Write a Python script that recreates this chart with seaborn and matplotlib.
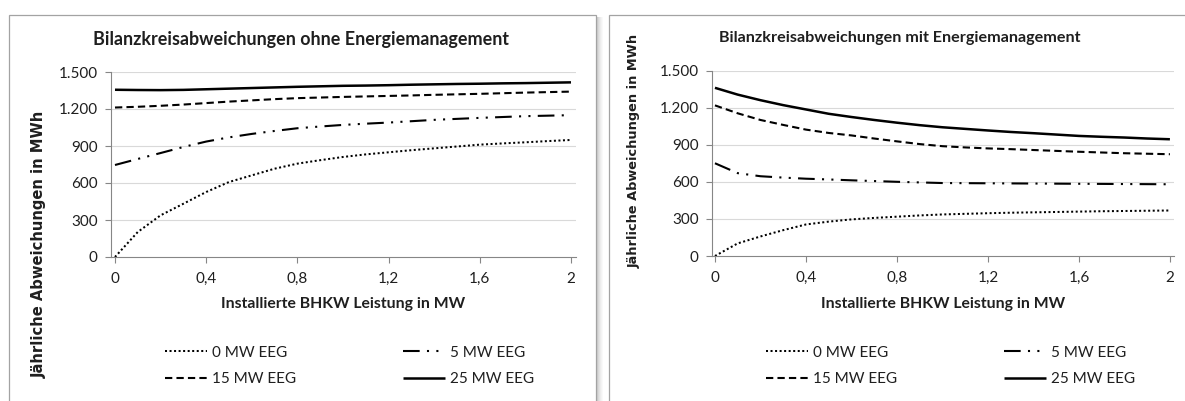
import matplotlib
matplotlib.use("Agg")
import matplotlib.pyplot as plt
from matplotlib.lines import Line2D
from matplotlib.patches import Rectangle
import numpy as np
import pandas as pd
import seaborn as sns

# Installed CHP (BHKW) capacity in MW
bhkw_mw = [0.0, 0.1, 0.2, 0.3, 0.4, 0.5, 0.6, 0.7, 0.8, 0.9, 1.0,
           1.1, 1.2, 1.3, 1.4, 1.5, 1.6, 1.7, 1.8, 1.9, 2.0]
eeg_labels = ["0 MW EEG", "5 MW EEG", "15 MW EEG", "25 MW EEG"]

# Annual balancing-group deviations in MWh, without energy management
ohne_0 = [0, 203, 338, 432, 527, 608, 662, 716, 757, 785, 811,
          832, 849, 866, 881, 896, 911, 921, 930, 940, 949]
ohne_5 = [746, 795, 843, 892, 936, 970, 998, 1022, 1044, 1058, 1071,
          1081, 1090, 1101, 1112, 1120, 1128, 1135, 1142, 1146, 1150]
ohne_15 = [1212, 1218, 1226, 1236, 1248, 1260, 1270, 1280, 1288, 1293, 1298,
           1302, 1306, 1310, 1315, 1319, 1323, 1328, 1333, 1337, 1341]
ohne_25 = [1356, 1354, 1353, 1355, 1360, 1365, 1370, 1375, 1380, 1384, 1388,
           1390, 1393, 1397, 1400, 1403, 1405, 1408, 1410, 1413, 1416]

# Annual balancing-group deviations in MWh, with energy management
mit_0 = [0, 102, 158, 209, 255, 278, 296, 308, 318, 328, 336,
         341, 346, 350, 353, 356, 359, 362, 364, 366, 368]
mit_5 = [750, 670, 645, 634, 625, 619, 612, 606, 600, 595, 590,
         589, 588, 587, 586, 585, 584, 583, 582, 581, 580]
mit_15 = [1218, 1154, 1100, 1060, 1022, 995, 975, 950, 927, 905, 888,
          878, 870, 864, 857, 850, 843, 837, 831, 827, 823]
mit_25 = [1360, 1305, 1260, 1220, 1185, 1150, 1124, 1100, 1078, 1058, 1041,
          1028, 1015, 1003, 993, 982, 971, 964, 958, 950, 944]

x_ticks = [0, 0.4, 0.8, 1.2, 1.6, 2.0]
x_tick_labels = ["0", "0,4", "0,8", "1,2", "1,6", "2"]
y_ticks = [0, 300, 600, 900, 1200, 1500]
y_tick_labels = ["0", "300", "600", "900", "1.200", "1.500"]

title_ohne = "Bilanzkreisabweichungen ohne Energiemanagement"
title_mit = "Bilanzkreisabweichungen mit Energiemanagement"
x_label = "Installierte BHKW Leistung in MW"
y_label = "Jährliche Abweichungen in MWh"

dash_map = {
    "0 MW EEG": (1, 1.25),
    "5 MW EEG": (8, 3.5, 1, 3.5, 1, 3.5),
    "15 MW EEG": (3.5, 2),
    "25 MW EEG": "",
}
width_map = {"0 MW EEG": 1.45, "5 MW EEG": 1.5, "15 MW EEG": 1.5, "25 MW EEG": 1.8}


def long_table(series):
    n = len(bhkw_mw)
    return pd.DataFrame({
        "BHKW": bhkw_mw * len(series),
        "MWh": [v for s in series for v in s],
        "EEG": np.repeat(eeg_labels, n),
    })


df_ohne = long_table([ohne_0, ohne_5, ohne_15, ohne_25])
df_mit = long_table([mit_0, mit_5, mit_15, mit_25])

W, H = 1185, 401
sns.set_theme(style="white")
plt.rcParams["font.family"] = ["Lato", "DejaVu Sans"]
plt.rcParams["lines.dash_capstyle"] = "butt"

fig = plt.figure(figsize=(W / 100, H / 100), dpi=100)
fig.patch.set_facecolor("white")


def fx(px):
    return px / W


def fy(py):
    return 1 - py / H


# white panel frames with a soft shadow between them
def frame(x0, y0, x1, y1):
    fig.add_artist(Rectangle((fx(x0), fy(y1)), fx(x1) - fx(x0), fy(y0) - fy(y1),
                             transform=fig.transFigure, facecolor="white",
                             edgecolor="#a3a3a3", lw=0.9, zorder=-3))


for i, shade in enumerate(["#c4c4c4", "#cfcfcf", "#d9d9d9", "#e3e3e3",
                           "#ececec", "#f3f3f3", "#f9f9f9"]):
    fig.add_artist(Rectangle((fx(596 + i), 0), fx(1), fy(17), transform=fig.transFigure,
                             facecolor=shade, edgecolor="none", zorder=-4))
frame(8.5, 14.5, 595.5, 430)
frame(608.5, 14.5, 1200, 430)

text_col = "#1f1f1f"
axis_col = "#868686"
grid_col = "#d9d9d9"


def make_panel(df, px_left, px_right, px_top, px_bottom, x_lim):
    ax = fig.add_axes([fx(px_left), fy(px_bottom), fx(px_right) - fx(px_left),
                       fy(px_top) - fy(px_bottom)])
    ax.set_facecolor("none")
    sns.lineplot(data=df, x="BHKW", y="MWh", style="EEG", style_order=eeg_labels,
                 dashes=dash_map, color="black", linewidth=1.5, errorbar=None,
                 legend=False, ax=ax)
    for line, lab in zip(ax.lines, eeg_labels):
        line.set_linewidth(width_map[lab])
        line.set_solid_capstyle("butt")
    ax.set_xlim(*x_lim)
    ax.set_ylim(0, 1500)
    ax.set_xticks(x_ticks)
    ax.set_xticklabels(x_tick_labels)
    ax.set_yticks(y_ticks)
    ax.set_yticklabels(y_tick_labels)
    ax.set_xlabel("")
    ax.set_ylabel("")
    for yv in y_ticks[1:]:
        ax.axhline(yv, color=grid_col, lw=0.8, zorder=0)
    for side in ["top", "right"]:
        ax.spines[side].set_visible(False)
    for side in ["left", "bottom"]:
        ax.spines[side].set_color(axis_col)
        ax.spines[side].set_linewidth(0.8)
    ax.tick_params(axis="both", which="major", direction="out", length=4.5, width=0.8,
                   color=axis_col, labelcolor=text_col, labelsize=11)
    ax.tick_params(axis="y", pad=5, left=True)
    ax.tick_params(axis="x", pad=6.5, bottom=True)
    return ax


ax_ohne = make_panel(df_ohne, 111, 576, 72, 257, (-0.0175, 2.022))
ax_mit = make_panel(df_mit, 712, 1174, 70.5, 256, (-0.013, 2.018))

renderer = fig.canvas.get_renderer()


def fit(txt, target_px, vertical=False):
    bb = txt.get_window_extent(renderer=renderer)
    cur = bb.height if vertical else bb.width
    txt.set_fontsize(txt.get_fontsize() * target_px / cur)


# headings
t1 = fig.text(fx(301), fy(39), title_ohne, ha="center", va="center",
              fontweight="bold", fontsize=12, color=text_col)
fit(t1, 412)
t2 = fig.text(fx(900), fy(38), title_mit, ha="center", va="center",
              fontweight="bold", fontsize=11, color=text_col)
fit(t2, 361)

# axis titles
for cx in (343, 943):
    xl = fig.text(fx(cx), fy(304), x_label, ha="center", va="center",
                  fontweight="bold", fontsize=11, color=text_col)
    fit(xl, 244)

yl1 = fig.text(fx(39), fy(244), y_label, ha="center", va="center", rotation=90,
               fontweight="bold", fontsize=11, color=text_col, family="DejaVu Sans")
fit(yl1, 267, vertical=True)
yl2 = fig.text(fx(634), fy(151), y_label, ha="center", va="center", rotation=90,
               fontweight="bold", fontsize=10, color=text_col, family="DejaVu Sans")
fit(yl2, 234, vertical=True)


# legends: two columns per panel, built from the drawn lines
def legend_column(ax, labels, px_x, px_y):
    handles = []
    for lab in labels:
        h = Line2D([], [])
        h.update_from(ax.lines[eeg_labels.index(lab)])
        handles.append(h)
    fs = 11
    fig.legend(handles, labels, loc="center left",
               bbox_to_anchor=(fx(px_x), fy(px_y)), bbox_transform=fig.transFigure,
               frameon=False, borderpad=0, borderaxespad=0, fontsize=fs,
               handlelength=42 / (fs * 100 / 72), handletextpad=0.35,
               labelspacing=0.85, labelcolor=text_col)


legend_column(ax_ohne, ["0 MW EEG", "15 MW EEG"], 165, 366)
legend_column(ax_ohne, ["5 MW EEG", "25 MW EEG"], 403, 366)
legend_column(ax_mit, ["0 MW EEG", "15 MW EEG"], 766, 366)
legend_column(ax_mit, ["5 MW EEG", "25 MW EEG"], 1004, 366)

fig.savefig("out.png", dpi=100, facecolor="white")
